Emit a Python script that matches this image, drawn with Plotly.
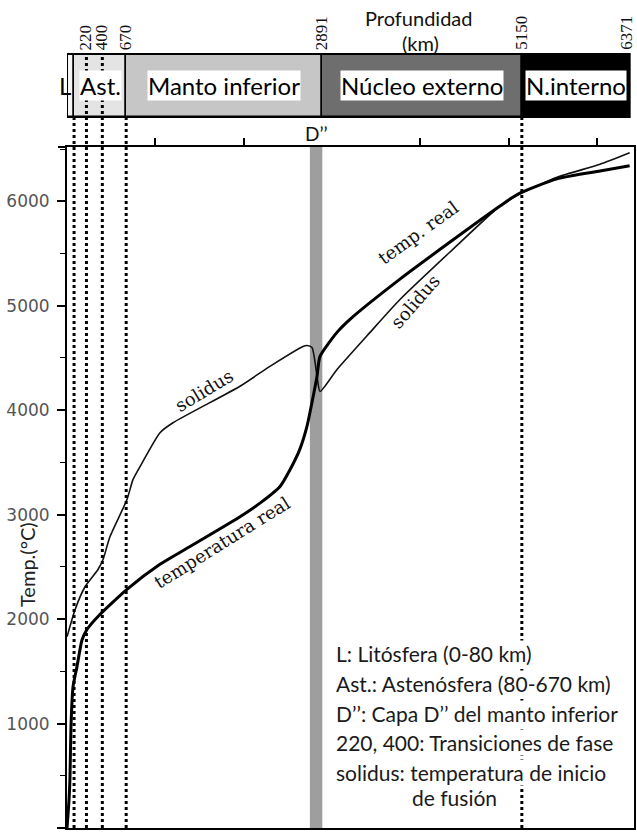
import plotly.graph_objects as go

# ---------------- data ----------------
# real temperature profile (depth km, temperature °C)
temp_depth = [0, 23, 34, 45, 68, 113, 170, 226, 351, 679, 1053, 1393, 1959, 2185, 2412, 2525, 2638,
              2717, 2774, 2831, 2865, 3057, 3204, 3770, 4337, 4903, 5107, 5548, 6035, 6371]
temp_real = [0, 270, 490, 970, 1350, 1545, 1800, 1900, 2025, 2285, 2525, 2695, 2980, 3110, 3270, 3430, 3630,
             3845, 4075, 4325, 4515, 4745, 4870, 5255, 5610, 5955, 6070, 6215, 6290, 6340]

# solidus (depth km, temperature °C)
sol_depth = [0, 91, 204, 351, 408, 487, 679, 747, 827, 1053, 1200, 1959, 2298, 2672, 2717, 2774,
             2831, 2865, 3057, 3431, 3770, 4337, 4903, 5107, 5548, 6035, 6371]
sol_temp = [1830, 2090, 2310, 2475, 2570, 2790, 3145, 3335, 3460, 3785, 3880, 4230, 4420, 4610, 4620, 4600,
            4325, 4180, 4390, 4745, 5060, 5515, 5955, 6060, 6230, 6355, 6465]

# layers of the Earth
layer_names = ["L", "Ast.", "Manto inferior", "Núcleo externo", "N.interno"]
layer_bounds = [0, 80, 670, 2891, 5150, 6371]
layer_colors = ["#f4f4f4", "#e4e4e4", "#c6c6c6", "#6e6e6e", "#000000"]

depth_ticklabels = [220, 400, 670, 2891, 5150, 6371]
transition_lines = [80, 220, 400, 670, 5150]
dpp_layer = [2750, 2891]          # D'' layer
top_ticks = [1000, 2000, 4000, 5000, 6000]

legend_lines = ["L: Litósfera (0-80 km)",
                "Ast.: Astenósfera (80-670 km)",
                "D’’: Capa D’’ del manto inferior",
                "220, 400: Transiciones de fase",
                "solidus: temperatura de inicio",
                "de fusión"]

# ---------------- layout constants ----------------
W, H = 637, 834
ML, MR, MT, MB = 67, 3, 0, 6
XMAX = 6420
YMAX = 6520
PH = H - MT - MB
main_top = (PH - 147) / PH
bar_bot = (PH - 117) / PH
bar_top = (PH - 54) / PH

def py(pix):  # pixel y -> paper y
    return (PH - pix) / PH

def px(pix):  # pixel x -> paper x
    return (pix - ML) / (W - ML - MR)

fig = go.Figure()

# curves
fig.add_trace(go.Scatter(x=sol_depth, y=sol_temp, mode="lines",
                         line=dict(color="#111111", width=1.6, shape="spline", smoothing=0.6),
                         showlegend=False, hoverinfo="skip"))
fig.add_trace(go.Scatter(x=temp_depth, y=temp_real, mode="lines",
                         line=dict(color="#000000", width=3, shape="spline", smoothing=0.6),
                         showlegend=False, hoverinfo="skip"))

# layer bar (horizontal segments)
widths = [layer_bounds[i + 1] - layer_bounds[i] for i in range(len(layer_names))]
fig.add_trace(go.Bar(x=widths, base=layer_bounds[:-1], y=[0] * len(widths), orientation="h",
                     width=1, marker=dict(color=layer_colors, line=dict(color="#000000", width=1.5)),
                     xaxis="x", yaxis="y2", showlegend=False, hoverinfo="skip"))

# dummy trace for top axis
fig.add_trace(go.Scatter(x=[None], y=[None], xaxis="x2", yaxis="y", showlegend=False))

shapes = []
# D'' gray band
shapes.append(dict(type="rect", xref="x", yref="paper", x0=dpp_layer[0], x1=dpp_layer[1],
                   y0=0, y1=main_top, fillcolor="#9e9e9e", line=dict(width=0), layer="below"))
# dotted transition lines
for d in transition_lines:
    top = bar_top if d in (220, 400) else bar_bot
    shapes.append(dict(type="line", xref="x", yref="paper", x0=d, x1=d, y0=0, y1=top,
                       line=dict(color="#000000", width=3, dash="3px,3px"), layer="above"))
# outer box of the bar
shapes.append(dict(type="rect", xref="x", yref="paper", x0=layer_bounds[0], x1=layer_bounds[-1],
                   y0=bar_bot, y1=bar_top, line=dict(color="#000000", width=2), layer="above"))
# top frame line slightly extended to the left
shapes.append(dict(type="line", xref="paper", yref="paper", x0=px(58), x1=0, y0=main_top, y1=main_top,
                   line=dict(color="#000000", width=2)))

ann = []
# layer labels
for i, name in enumerate(layer_names):
    c = (layer_bounds[i] + layer_bounds[i + 1]) / 2
    ann.append(dict(x=c, y=0, xref="x", yref="y2", text=name, showarrow=False,
                    xanchor="center", yanchor="middle", xshift=-6 if i == 0 else 0,
                    font=dict(family="Lato", size=24, color="#000000"),
                    bgcolor=None if i == 0 else "#ffffff", borderpad=0))
# depth tick labels (rotated)
for d in depth_ticklabels:
    ann.append(dict(x=d, y=bar_top, xref="x", yref="paper", text=str(d), showarrow=False,
                    textangle=-90, xanchor="center", yanchor="bottom", yshift=2,
                    xshift=-3 if d == depth_ticklabels[-1] else 0,
                    font=dict(family="Liberation Serif", size=17, color="#111111")))
# header
ann.append(dict(x=px(418), y=py(18), xref="paper", yref="paper", text="Profundidad",
                xanchor="center", yanchor="middle",
                showarrow=False, font=dict(family="Lato", size=20, color="#111111")))
ann.append(dict(x=px(420), y=py(43), xref="paper", yref="paper", text="(km)",
                xanchor="center", yanchor="middle",
                showarrow=False, font=dict(family="Lato", size=20, color="#111111")))
# D'' label
ann.append(dict(x=sum(dpp_layer) / 2, y=py(133), xref="x", yref="paper", text="D’’",
                xanchor="center", yanchor="middle",
                showarrow=False, font=dict(family="Lato", size=19, color="#111111")))
# y axis title
ann.append(dict(x=px(27), y=py(565), xref="paper", yref="paper", text="Temp.(°C)", textangle=-90,
                xanchor="center", yanchor="middle",
                showarrow=False, font=dict(family="Lato", size=20, color="#222222")))
# curve labels
curve_font = dict(family="DejaVu Serif", size=18, color="#111111")
ann.append(dict(x=1551, y=4190, text="solidus", textangle=-31, showarrow=False, font=curve_font))
ann.append(dict(x=1755, y=2732, text="temperatura real", textangle=-32, showarrow=False, font=curve_font))
ann.append(dict(x=3974, y=5705, text="temp. real", textangle=-36, showarrow=False, font=curve_font))
ann.append(dict(x=3940, y=5043, text="solidus", textangle=-49, showarrow=False, font=curve_font))
# legend text (added bottom line first so upper lines stay on top of its background)
leg_y = [653, 683, 713, 742, 772, 797]
leg_x = [335, 335, 335, 335, 335, 411]
for t, yy, xx in reversed(list(zip(legend_lines, leg_y, leg_x))):
    ann.append(dict(x=px(xx), y=py(yy), xref="paper", yref="paper", text=t, showarrow=False,
                    xanchor="left", yanchor="middle", bgcolor="#ffffff", borderpad=0,
                    font=dict(family="Lato", size=21, color="#1a1a1a")))

fig.update_layout(
    width=W, height=H, margin=dict(l=ML, r=MR, t=MT, b=MB),
    paper_bgcolor="#ffffff", plot_bgcolor="#ffffff",
    showlegend=False, bargap=0,
    xaxis=dict(domain=[0, 1], range=[0, XMAX], showgrid=False, zeroline=False,
               showticklabels=False, ticks="", showline=True, linecolor="#000000", linewidth=2,
               anchor="y"),
    xaxis2=dict(overlaying="x", side="top", anchor="y", range=[0, XMAX], showgrid=False,
                zeroline=False, showticklabels=False, ticks="outside", tickvals=top_ticks,
                ticklen=7, tickwidth=1.5, tickcolor="#000000",
                showline=True, linecolor="#000000", linewidth=2),
    yaxis=dict(domain=[0, main_top], range=[0, YMAX], showgrid=False, zeroline=False,
               tickmode="linear", tick0=0, dtick=1000, ticks="outside", ticklen=8,
               tickwidth=1.5, tickcolor="#000000", ticklabelstandoff=4,
               tickfont=dict(family="DejaVu Sans", size=17, color="#555555"),
               minor=dict(ticks="outside", dtick=500, ticklen=5, tickcolor="#000000", tickwidth=1.2),
               showline=True, linecolor="#000000", linewidth=2, mirror=True),
    yaxis2=dict(domain=[bar_bot, bar_top], range=[-0.5, 0.5], visible=False, fixedrange=True),
    shapes=shapes, annotations=ann,
)

fig.write_html("out.html")
